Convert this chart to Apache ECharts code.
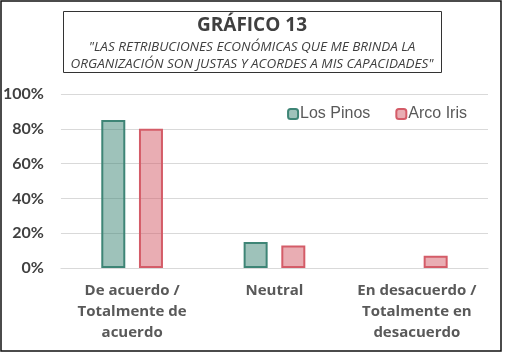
<!DOCTYPE html>
<html>
<head>
<meta charset="utf-8">
<script src="https://cdn.jsdelivr.net/npm/echarts@6/dist/echarts.min.js"></script>
<style>
html,body{margin:0;padding:0;background:#fff;}
#chart{width:505px;height:353px;}
</style>
</head>
<body>
<div id="chart"></div>
<script>
const categories = ['De acuerdo /\nTotalmente de\nacuerdo', 'Neutral', 'En desacuerdo /\nTotalmente en\ndesacuerdo'];
const seriesNames = ['Los Pinos', 'Arco Iris'];
const losPinos = [85, 15, 0];
const arcoIris = [80, 13, 7];
const titleText = 'GRÁFICO 13';
const subtitleLines = ['"LAS RETRIBUCIONES ECONÓMICAS QUE ME BRINDA LA', 'ORGANIZACIÓN SON JUSTAS Y ACORDES A MIS CAPACIDADES"'];

// zero-height bars are not drawn in the reference
const hideZero = arr => arr.map(v => (v === 0 ? null : v));

const chart = echarts.init(document.getElementById('chart'), null, {renderer: 'canvas'});
const option = {
  animation: false,
  backgroundColor: '#fff',
  graphic: [
    {type: 'rect', shape: {x: 1, y: 1, width: 500, height: 350}, style: {fill: 'none', stroke: '#111', lineWidth: 1.5}, silent: true},
    {type: 'rect', shape: {x: 63.5, y: 11.5, width: 378, height: 61}, style: {fill: '#fff', stroke: '#333', lineWidth: 1}, silent: true},
    {type: 'text', x: 252, y: 26, style: {text: titleText, fill: '#404040', font: 'bold 19px "Open Sans"', textAlign: 'center', textVerticalAlign: 'middle'}},
    {type: 'text', x: 252, y: 47, style: {text: subtitleLines[0], fill: '#404040', font: 'italic 13.5px "Open Sans"', textAlign: 'center', textVerticalAlign: 'middle'}},
    {type: 'text', x: 252, y: 64, style: {text: subtitleLines[1], fill: '#404040', font: 'italic 13.5px "Open Sans"', textAlign: 'center', textVerticalAlign: 'middle'}}
  ],
  legend: {
    data: seriesNames,
    right: 33,
    top: 101,
    itemWidth: 10,
    itemHeight: 10,
    itemGap: 25,
    textStyle: {fontFamily: '"Liberation Sans", Arial', fontSize: 16, color: '#595959', padding: [0,0,0,-3]}
  },
  grid: {left: 60, right: 17, top: 94, bottom: 85},
  xAxis: {
    type: 'category',
    data: categories,
    axisLine: {show: true, lineStyle: {color: '#d9d9d9', width: 1}},
    axisTick: {show: false},
    axisLabel: {
      interval: 0,
      margin: 12,
      fontFamily: '"Open Sans"',
      fontWeight: 'bold',
      fontSize: 15,
      lineHeight: 21,
      color: '#595959'
    }
  },
  yAxis: {
    type: 'value',
    min: 0,
    max: 100,
    interval: 20,
    axisLine: {show: false},
    axisTick: {show: false},
    splitLine: {lineStyle: {color: '#d9d9d9', width: 1}},
    axisLabel: {
      formatter: '{value}%',
      margin: 17,
      fontFamily: 'Lato',
      fontWeight: 'bold',
      fontSize: 16,
      color: '#404040'
    }
  },
  series: [
    {
      name: seriesNames[0],
      type: 'bar',
      data: hideZero(losPinos),
      barWidth: 24,
      barGap: '57%',
      itemStyle: {color: 'rgba(62,133,118,0.5)', borderColor: '#3e8576', borderWidth: 2}
    },
    {
      name: seriesNames[1],
      type: 'bar',
      data: hideZero(arcoIris),
      barWidth: 24,
      itemStyle: {color: 'rgba(212,92,104,0.5)', borderColor: '#d45c68', borderWidth: 2}
    }
  ]
};
chart.setOption(option);
</script>
</body>
</html>
